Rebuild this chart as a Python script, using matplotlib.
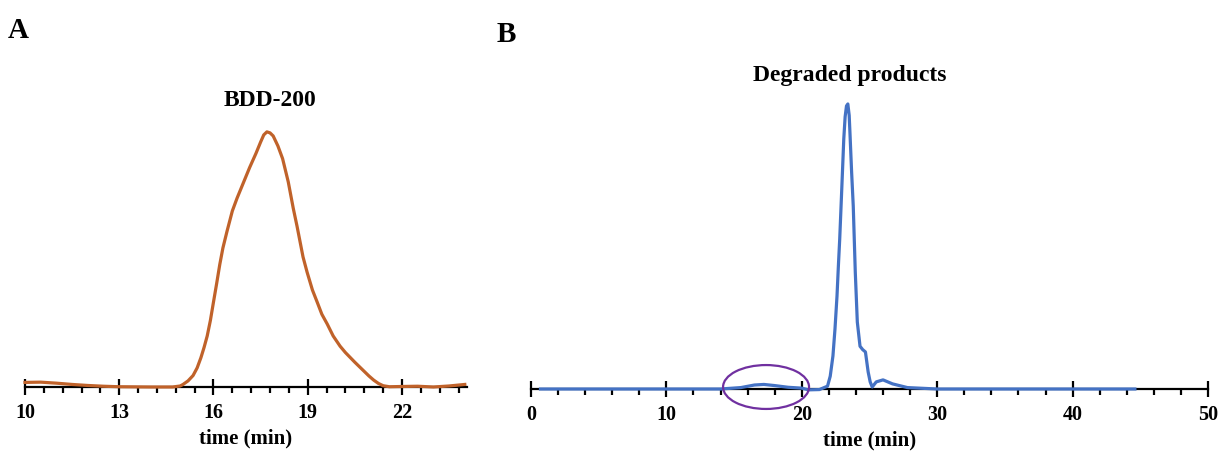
"""GPC traces: BDD-200 and degraded products"""

import matplotlib.pyplot as plt
from matplotlib.patches import Ellipse
from matplotlib.ticker import MultipleLocator

plt.rcParams['font.family'] = ['Liberation Serif', 'DejaVu Serif']
plt.rcParams['font.weight'] = 'bold'

# panel A - BDD-200 (time in min, relative signal)
bdd_time = [10.0, 10.5, 11.0, 11.5, 12.0, 12.5, 13.0, 14.0, 14.7, 14.94,
            15.03, 15.19, 15.35, 15.48, 15.6, 15.7, 15.8, 15.9, 16.0, 16.1,
            16.2, 16.3, 16.43, 16.6, 16.75, 16.95, 17.15, 17.35, 17.5, 17.6,
            17.7, 17.8, 17.9, 18.05, 18.2, 18.38, 18.54, 18.66, 18.85, 18.98,
            19.15, 19.3, 19.45, 19.62, 19.81, 20.03, 20.2, 20.35, 20.5, 20.65,
            20.8, 20.95, 21.1, 21.25, 21.4, 21.6, 22.0, 22.5, 23.0, 23.5,
            24.0]
bdd_signal = [1.8, 1.9, 1.5, 1.0, 0.6, 0.3, 0.1, 0.0, 0.0, 0.4,
              1.0, 2.4, 4.5, 7.5, 11.5, 15.5, 20.0, 26.0, 33.3, 40.5,
              48.0, 54.5, 61.0, 69.0, 74.0, 80.0, 86.0, 91.5, 96.0, 98.8,
              100.0, 99.6, 98.4, 94.5, 89.5, 80.4, 70.0, 63.0, 51.0, 45.0,
              38.0, 33.3, 28.5, 24.7, 20.0, 16.0, 13.5, 11.6, 9.7, 7.9,
              6.1, 4.3, 2.7, 1.4, 0.5, 0.1, 0.2, 0.3, 0.0, 0.4,
              1.0]

# panel B - degraded products
deg_time = [0.7, 5.0, 10.0, 14.0, 15.5, 16.5, 17.2, 18.0, 19.0, 20.0,
            20.5, 21.3, 21.9, 22.1, 22.3, 22.45, 22.6, 22.7, 22.8, 22.95,
            23.1, 23.2, 23.3, 23.4, 23.5, 23.56, 23.68, 23.8, 23.95, 24.1,
            24.3, 24.5, 24.7, 24.9, 25.05, 25.2, 25.5, 26.0, 26.7, 27.8,
            30.0, 35.0, 40.0, 44.6]
deg_signal = [0.0, 0.0, 0.0, 0.0, 0.5, 1.4, 1.6, 1.2, 0.6, 0.3,
              -0.3, -0.2, 1.0, 4.5, 11.6, 21.0, 32.6, 43.0, 52.6, 70.0,
              87.7, 95.5, 99.3, 100.0, 96.0, 89.5, 76.0, 64.2, 41.0, 23.5,
              15.0, 13.8, 13.0, 6.0, 2.5, 0.7, 2.5, 3.2, 1.8, 0.5,
              0.0, 0.0, 0.0, 0.0]

W, H = 1225, 456
fig = plt.figure(figsize=(W / 100, H / 100), dpi=100)


def style_axis(ax):
    for s in ['left', 'right', 'top']:
        ax.spines[s].set_visible(False)
    ax.spines['bottom'].set_linewidth(1.6)
    ax.set_yticks([])
    ax.tick_params(axis='x', which='major', direction='inout', length=11,
                   width=1.6, labelsize=14.5, pad=5)
    ax.tick_params(axis='x', which='minor', direction='out', length=4,
                   width=1.6)
    ax.set_xlabel('time (min)', fontsize=15, fontweight='bold', labelpad=4)


# A
ax1 = fig.add_axes([25 / W, (H - 388) / H, 442 / W, 273 / H])
ax1.plot(bdd_time, bdd_signal, color='#C0622A', lw=2.3, clip_on=False,
         zorder=3, solid_joinstyle='round')
ax1.set_xlim(10, 24.07)
ax1.set_ylim(0, 107)
ax1.xaxis.set_major_locator(MultipleLocator(3, offset=1))
ax1.xaxis.set_minor_locator(MultipleLocator(0.6, offset=0.4))
style_axis(ax1)

# B
ax2 = fig.add_axes([531 / W, (H - 390) / H, 677 / W, 295 / H])
ax2.plot(deg_time, deg_signal, color='#4472C4', lw=2.3, clip_on=False,
         zorder=3, solid_joinstyle='round')
ax2.set_xlim(0, 50)
ax2.set_ylim(0, 103.5)
ax2.xaxis.set_major_locator(MultipleLocator(10))
ax2.xaxis.set_minor_locator(MultipleLocator(2))
style_axis(ax2)
ax2.add_patch(Ellipse((17.36, 0.7), 6.35, 15.4, fill=False,
                      edgecolor='#7030A0', lw=1.6, clip_on=False, zorder=4))

fig.text(270 / W, 1 - 100 / H, 'BDD-200', ha='center', va='center',
         fontsize=17, fontweight='bold')
fig.text(850 / W, 1 - 75 / H, 'Degraded products', ha='center',
         va='center', fontsize=17, fontweight='bold')
fig.text(18 / W, 1 - 30 / H, 'A', ha='center', va='center', fontsize=21,
         fontweight='bold')
fig.text(506 / W, 1 - 35 / H, 'B', ha='center', va='center', fontsize=21,
         fontweight='bold')

fig.savefig('out.png', dpi=100)
